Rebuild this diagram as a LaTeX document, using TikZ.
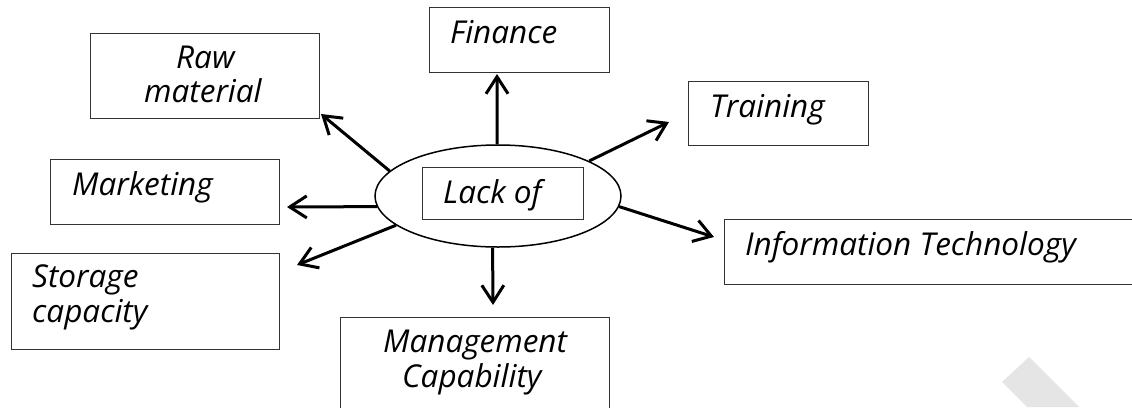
\documentclass[tikz,border=0pt]{standalone}
\usepackage{fontspec}
\setmainfont{Open Sans}
\usetikzlibrary{arrows.meta,shapes.geometric}
\tikzset{
  box/.style={draw=black!80, line width=1.2pt, rectangle, inner sep=0pt, anchor=north west},
  lbl/.style={anchor=base west, inner sep=0pt, font=\fontsize{31.5}{36}\selectfont\itshape},
  arr/.style={line width=3pt, -{Straight Barb[length=17pt,width=22pt,line width=3pt]}},
}
\begin{document}
\begin{tikzpicture}[x=1pt,y=-1pt]
\clip (0,0) rectangle (1132,407);
\fill[white] (0,0) rectangle (1132,407);
% watermark
\fill[black!10] (1002,382) -- (1029,357) -- (1079,407) -- (1027,407) -- cycle;
% boxes
\node[box, minimum width=229pt, minimum height=85pt] (raw) at (90,33) {};
\node[box, minimum width=229pt, minimum height=65pt] (mkt) at (50,159) {};
\node[box, minimum width=268pt, minimum height=96pt] (sto) at (11,253) {};
\node[box, minimum width=180pt, minimum height=65pt] (fin) at (429,7) {};
\node[box, minimum width=180pt, minimum height=64pt] (trn) at (688,81) {};
\node[box, minimum width=430pt, minimum height=65pt] (it) at (724,219) {};
\node[box, minimum width=269pt, minimum height=110pt] (mgm) at (340,317) {};
% centre
\node[draw, ellipse, line width=1.5pt, minimum width=246pt, minimum height=102pt, inner sep=0pt] (ell) at (498,196) {};
\node[box, minimum width=161pt, minimum height=52pt] (lack) at (422,167) {};
% labels
\node[lbl] (t1) at (176,68) {Raw};
\node[lbl] (t2) at (144,102) {material};
\node[lbl] (t3) at (72,195) {Marketing};
\node[lbl] (t4) at (32,287) {Storage};
\node[lbl] (t5) at (32,322) {capacity};
\node[lbl] (t6) at (450,43) {Finance};
\node[lbl] (t7) at (710,117) {Training};
\node[lbl] (t8) at (443,203) {Lack of};
\node[lbl] (t9) at (745,255) {Information Technology};
\node[lbl] (t10) at (383,352) {Management};
\node[lbl] (t11) at (402,387) {Capability};
% arrow tips
\coordinate (rawtip) at (321,114);
\coordinate (mkttip) at (287,207);
\coordinate (stotip) at (297,265);
\coordinate (fintip) at (497,74);
\coordinate (trntip) at (669,122);
\coordinate (ittip) at (714,237);
\coordinate (mgmtip) at (493,305);
% arrows
\draw[arr] (ell.167) -- (rawtip);
\draw[arr] (ell.185) -- (mkttip);
\draw[arr] (ell.196) -- (stotip);
\draw[arr] (ell.91) -- (fintip);
\draw[arr] (ell.21) -- (trntip);
\draw[arr] (ell.-5) -- (ittip);
\draw[arr] (ell.264) -- (mgmtip);
\end{tikzpicture}
\end{document}
